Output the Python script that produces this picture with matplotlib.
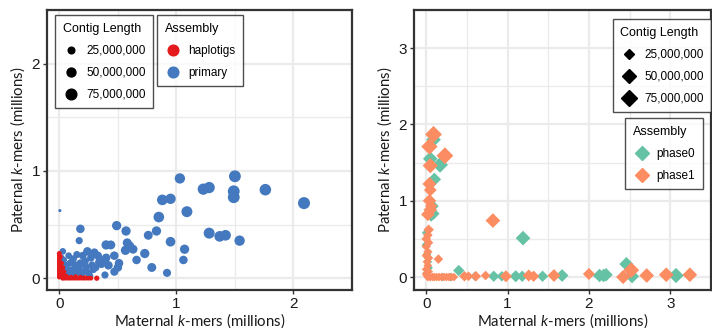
import numpy as np
import matplotlib
matplotlib.use("Agg")
import matplotlib.pyplot as plt
from matplotlib.lines import Line2D

plt.rcParams['font.family'] = ['Liberation Sans', 'DejaVu Sans']
plt.rcParams['mathtext.fontset'] = 'custom'
plt.rcParams['mathtext.it'] = 'Lato:italic'
plt.rcParams['mathtext.rm'] = 'Lato'

# ---------------- Left panel data (millions of k-mers, contig length in Mb) ----------------
primary_x = [1.03, 1.50, 1.23, 1.28, 1.49, 1.49, 1.76, 2.09, 0.88, 0.95, 1.09, 0.85,
             0.005, 0.49, 0.57, 0.18, 0.76, 0.83, 1.28, 1.37, 1.42, 1.54, 0.95, 0.17,
             1.07, 1.06, 0.92, 0.79, 0.73, 0.66, 0.63, 0.60, 0.58, 0.565, 0.51, 0.50,
             0.47, 0.47, 0.40, 0.44, 0.39, 0.42,
             0.33, 0.38, 0.36, 0.40, 0.34, 0.30, 0.31, 0.27, 0.24, 0.28, 0.25, 0.22,
             0.20, 0.23, 0.18, 0.15, 0.16, 0.12, 0.14, 0.10, 0.08, 0.11, 0.06, 0.04,
             0.07, 0.03, 0.02, 0.09, 0.13, 0.19, 0.21, 0.26, 0.05, 0.17, 0.29, 0.12,
             0.08, 0.02, 0.35, 0.10, 0.15, 0.22, 0.05]
primary_y = [0.93, 0.95, 0.83, 0.845, 0.81, 0.755, 0.825, 0.70, 0.73, 0.74, 0.62, 0.57,
             0.63, 0.49, 0.44, 0.46, 0.40, 0.44, 0.42, 0.39, 0.40, 0.35, 0.34, 0.35,
             0.27, 0.17, 0.05, 0.10, 0.23, 0.17, 0.27, 0.30, 0.33, 0.26, 0.14, 0.10,
             0.06, 0.21, 0.31, 0.31, 0.03, 0.12,
             0.21, 0.16, 0.13, 0.19, 0.15, 0.24, 0.10, 0.19, 0.25, 0.12, 0.05, 0.16,
             0.21, 0.10, 0.14, 0.22, 0.06, 0.18, 0.12, 0.08, 0.21, 0.03, 0.12, 0.17,
             0.05, 0.25, 0.09, 0.14, 0.02, 0.02, 0.06, 0.02, 0.04, 0.09, 0.08, 0.06,
             0.01, 0.19, 0.17, 0.15, 0.08, 0.12, 0.09]
primary_len = [70, 95, 85, 85, 95, 95, 90, 98, 75, 70, 80, 75,
               3, 55, 55, 45, 50, 55, 80, 75, 75, 70, 60, 30,
               55, 45, 40, 50, 55, 45, 50, 55, 50, 55, 45, 45,
               40, 45, 55, 50, 30, 45,
               40, 45, 35, 45, 40, 40, 35, 35, 45, 35, 30, 35,
               35, 30, 35, 30, 30, 30, 35, 25, 25, 30, 25, 20,
               25, 25, 20, 25, 20, 25, 25, 30, 20, 25, 30, 25,
               20, 20, 35, 25, 30, 30, 20]

hap_x = [0.0, 0.0, 0.0, 0.0, 0.0, 0.0, 0.0, 0.0, 0.0, 0.0, 0.0, 0.0,
         0.01, 0.02, 0.01, 0.03, 0.02, 0.01, 0.03, 0.04,
         0.03, 0.05, 0.07, 0.09, 0.11, 0.13, 0.15, 0.17, 0.19, 0.21, 0.23, 0.25, 0.27, 0.32,
         0.06, 0.10, 0.14, 0.18, 0.22]
hap_y = [0.23, 0.21, 0.19, 0.17, 0.15, 0.13, 0.11, 0.09, 0.07, 0.05, 0.03, 0.01,
         0.20, 0.14, 0.08, 0.04, 0.02, 0.12, 0.10, 0.06,
         0.0, 0.0, 0.0, 0.0, 0.0, 0.0, 0.0, 0.0, 0.0, 0.0, 0.0, 0.0, 0.0, 0.0,
         0.02, 0.01, 0.015, 0.01, 0.005]
hap_len = [12, 10, 10, 10, 10, 10, 10, 10, 10, 10, 10, 10,
           10, 10, 10, 10, 10, 10, 10, 10,
           12, 10, 10, 10, 10, 10, 10, 10, 10, 10, 10, 10, 10, 14,
           10, 10, 10, 10, 10]

# ---------------- Right panel data ----------------
phase0_x = [0.09, 0.05, 0.17, 0.10, 0.08, 0.09, 0.06, 1.19, 0.40, 0.0, 0.02, 0.0,
            0.01, 0.03, 0.0, 0.60, 0.83, 0.93, 1.10, 1.18, 1.43, 1.67, 2.13, 2.18,
            2.21, 2.46, 2.53, 3.07, 0.20, 0.30]
phase0_y = [1.80, 1.55, 1.47, 1.28, 0.93, 0.83, 0.80, 0.51, 0.085, 0.42, 0.20, 0.58,
            0.30, 0.12, 0.05, 0.01, 0.01, 0.01, 0.01, 0.01, 0.01, 0.02, 0.02, 0.02,
            0.03, 0.17, 0.01, 0.02, 0.0, 0.0]
phase0_len = [55, 55, 65, 45, 35, 35, 30, 55, 30, 18, 15, 15,
              15, 15, 12, 20, 30, 25, 35, 30, 30, 40, 45, 45,
              45, 50, 50, 60, 15, 15]

phase1_x = [0.09, 0.04, 0.05, 0.23, 0.04, 0.05, 0.04, 0.05, 0.02, 0.06,
            0.03, 0.02, 0.0, 0.03, 0.0, 0.02, 0.0, 0.03, 0.01, 0.02, 0.0, 0.03, 0.0, 0.01,
            0.15, 0.82,
            0.02, 0.05, 0.08, 0.10, 0.13, 0.16, 0.19, 0.22, 0.25, 0.28, 0.31, 0.34,
            0.47, 0.52, 0.61, 0.73, 0.98, 1.26, 1.32, 1.57, 2.00, 2.42, 2.52, 2.71,
            2.95, 3.24]
phase1_y = [1.87, 1.71, 1.46, 1.59, 1.22, 1.14, 1.00, 0.88, 0.82, 0.93,
            0.62, 0.55, 0.50, 0.45, 0.40, 0.33, 0.28, 0.25, 0.20, 0.15, 0.10, 0.07, 0.04, 0.02,
            0.235, 0.74,
            0.0, 0.0, 0.0, 0.0, 0.0, 0.0, 0.0, 0.0, 0.0, 0.0, 0.0, 0.0,
            0.01, 0.01, 0.01, 0.02, 0.01, 0.02, 0.01, 0.02, 0.04, 0.0, 0.09, 0.02,
            0.03, 0.03]
phase1_len = [75, 70, 60, 75, 50, 40, 45, 45, 45, 35,
              25, 20, 20, 18, 18, 18, 18, 18, 16, 16, 16, 16, 16, 16,
              20, 55,
              16, 16, 15, 15, 15, 15, 15, 15, 15, 15, 15, 15,
              25, 20, 25, 20, 35, 35, 30, 40, 35, 50, 65, 55,
              55, 55]

size_breaks = [25, 50, 75]
size_labels = ["25,000,000", "50,000,000", "75,000,000"]

BLUE = "#4479BF"
RED = "#E41A1C"
GREEN = "#66C2A5"
ORANGE = "#FC8D62"
GRID = "#EBEBEB"
FRAME = "#333333"


def diam_px(L):
    return 1.23 + 1.09 * np.sqrt(np.asarray(L, dtype=float))


def s_circle(L):
    return (diam_px(L) * 0.72) ** 2


def ms_diamond(L):
    # empirical conversion of desired diamond width (px) into marker size (pt)
    w = 1.25 * diam_px(L)
    return w * 0.72 / 1.12


fig = plt.figure(figsize=(7.12, 3.28), dpi=100)
ax1 = fig.add_axes([47 / 712, 38 / 328, 305 / 712, 280 / 328])
ax2 = fig.add_axes([414 / 712, 38 / 328, 297 / 712, 280 / 328])


def style(ax, xlim, ylim, ticks):
    ax.set_xlim(*xlim)
    ax.set_ylim(*ylim)
    ax.set_xticks(ticks)
    ax.set_yticks(ticks)
    minor = [t + 0.5 for t in ticks[:-1]] + [ticks[-1] + 0.5]
    ax.set_xticks(minor, minor=True)
    ax.set_yticks(minor, minor=True)
    ax.grid(True, which='major', color=GRID, lw=1.6, zorder=0)
    ax.grid(True, which='minor', color=GRID, lw=1.0, zorder=0)
    ax.set_axisbelow(True)
    ax.tick_params(which='minor', length=0)
    ax.tick_params(which='major', length=3, width=1.0, color=FRAME,
                   labelsize=11, pad=2, labelcolor='#1a1a1a')
    for sp in ax.spines.values():
        sp.set_color(FRAME)
        sp.set_linewidth(1.6)
    ax.set_xlabel(r"Maternal $\mathit{k}$-mers (millions)", fontsize=10.8,
                  family='Lato', labelpad=0, color='#1a1a1a')
    ax.set_ylabel(r"Paternal $\mathit{k}$-mers (millions)", fontsize=10.8,
                  family='Lato', labelpad=3, color='#1a1a1a')


leg_kw = dict(frameon=True, fancybox=False, edgecolor='#222222', fontsize=8.5,
              title_fontsize=9, handletextpad=0.5, borderpad=0.65,
              labelspacing=0.85, handlelength=1.5, borderaxespad=0)


def finish(lg):
    lg._legend_box.align = 'left'
    lg.get_frame().set_linewidth(1.0)
    return lg


# ---- left panel ----
style(ax1, (-0.105, 2.21), (-0.11, 2.21), [0, 1, 2])
ax1.scatter(primary_x, primary_y, s=s_circle(primary_len), c=BLUE,
            edgecolors='none', zorder=3)
ax1.scatter(hap_x, hap_y, s=s_circle(hap_len), c=RED, edgecolors='none', zorder=4)

h_size = [Line2D([], [], ls='none', marker='o', color='black',
                 markersize=diam_px(b) * 0.72) for b in size_breaks]
lg1 = finish(ax1.legend(h_size, size_labels, title="Contig Length", loc='upper left',
                        bbox_to_anchor=(0.026, 0.982), **leg_kw))
ax1.add_artist(lg1)
h_asm = [Line2D([], [], ls='none', marker='o', color=RED, markersize=diam_px(75) * 0.72),
         Line2D([], [], ls='none', marker='o', color=BLUE, markersize=diam_px(75) * 0.72)]
finish(ax1.legend(h_asm, ["haplotigs", "primary"], title="Assembly", loc='upper left',
                  bbox_to_anchor=(0.36, 0.982), **leg_kw))

# ---- right panel ----
style(ax2, (-0.15, 3.35), (-0.17, 3.41), [0, 1, 2, 3])
ax2.scatter(phase0_x, phase0_y, s=ms_diamond(phase0_len) ** 2, c=GREEN, marker='D',
            edgecolors='none', zorder=3)
ax2.scatter(phase1_x, phase1_y, s=ms_diamond(phase1_len) ** 2, c=ORANGE, marker='D',
            edgecolors='none', zorder=4)

h_size2 = [Line2D([], [], ls='none', marker='D', color='black',
                  markersize=ms_diamond(b)) for b in size_breaks]
lg3 = finish(ax2.legend(h_size2, size_labels, title="Contig Length", loc='upper center',
                        bbox_to_anchor=(0.835, 0.968), **leg_kw))
ax2.add_artist(lg3)
h_asm2 = [Line2D([], [], ls='none', marker='D', color=GREEN, markersize=ms_diamond(50)),
          Line2D([], [], ls='none', marker='D', color=ORANGE, markersize=ms_diamond(50))]
finish(ax2.legend(h_asm2, ["phase0", "phase1"], title="Assembly", loc='upper center',
                  bbox_to_anchor=(0.842, 0.614), **leg_kw))

fig.savefig("out.png", dpi=100)
